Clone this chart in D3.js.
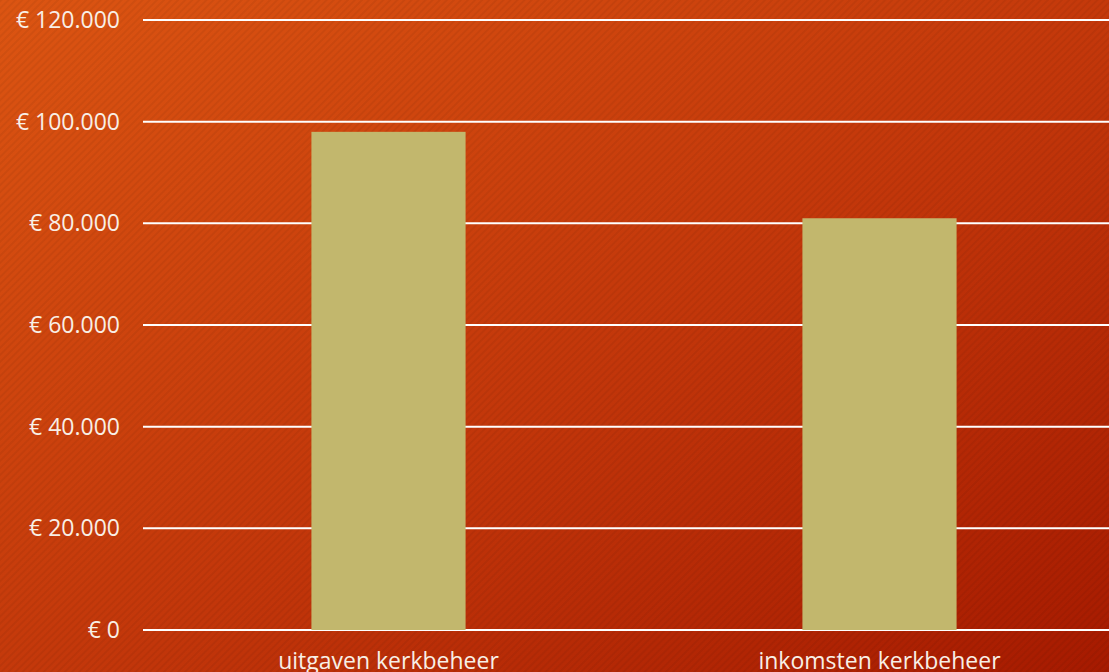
<!DOCTYPE html>
<html>
<head>
<meta charset="utf-8">
<script src="https://d3js.org/d3.v7.min.js"></script>
<style>
  body { margin: 0; overflow: hidden; }
</style>
</head>
<body>
<svg width="1109" height="672"></svg>
<script>

var categories = ["uitgaven kerkbeheer", "inkomsten kerkbeheer"];
var values = [98000, 81000];
var yTicks = [0, 20000, 40000, 60000, 80000, 100000, 120000];
var yTickLabels = ["€ 0", "€ 20.000", "€ 40.000", "€ 60.000", "€ 80.000", "€ 100.000", "€ 120.000"];

var svg = d3.select("svg"),
    width = +svg.attr("width"),
    height = +svg.attr("height");

// background gradient + diagonal texture
var defs = svg.append("defs");
var grad = defs.append("linearGradient")
    .attr("id", "bg")
    .attr("x1", "0%").attr("y1", "0%")
    .attr("x2", "100%").attr("y2", "100%");
grad.append("stop").attr("offset", "0%").attr("stop-color", "#dc5512");
grad.append("stop").attr("offset", "55%").attr("stop-color", "#c2360a");
grad.append("stop").attr("offset", "100%").attr("stop-color", "#a61a00");

var pat = defs.append("pattern")
    .attr("id", "hatch")
    .attr("width", 5).attr("height", 5)
    .attr("patternUnits", "userSpaceOnUse")
    .attr("patternTransform", "rotate(45)");
pat.append("rect")
    .attr("width", 2).attr("height", 5)
    .attr("fill", "#000").attr("opacity", 0.05);

svg.append("rect").attr("width", width).attr("height", height).attr("fill", "url(#bg)");
svg.append("rect").attr("width", width).attr("height", height).attr("fill", "url(#hatch)");

var x = d3.scaleBand().domain(categories).range([143, 1125]).paddingInner(0.686).paddingOuter(0.343);
var y = d3.scaleLinear().domain([0, 120000]).range([630, 20]);

// gridlines
svg.append("g")
  .selectAll("line")
  .data(yTicks)
  .enter().append("line")
  .attr("x1", 143).attr("x2", width)
  .attr("y1", function (d) { return y(d); })
  .attr("y2", function (d) { return y(d); })
  .attr("stroke", "#ffffff")
  .attr("stroke-width", 2);

// y labels
svg.append("g")
  .selectAll("text")
  .data(yTicks)
  .enter().append("text")
  .attr("x", 120)
  .attr("y", function (d) { return y(d); })
  .attr("dy", "0.35em")
  .attr("text-anchor", "end")
  .style("font-family", "Open Sans")
  .style("font-size", "23px")
  .style("fill", "#f8efe6")
  .text(function (d, i) { return yTickLabels[i]; });

// bars
svg.append("g")
  .selectAll("rect")
  .data(values)
  .enter().append("rect")
  .attr("x", function (d, i) { return x(categories[i]); })
  .attr("y", function (d) { return y(d); })
  .attr("width", x.bandwidth())
  .attr("height", function (d) { return y(0) - y(d); })
  .attr("fill", "#c2b76d");

// category labels
svg.append("g")
  .selectAll("text")
  .data(categories)
  .enter().append("text")
  .attr("x", function (d) { return x(d) + x.bandwidth() / 2; })
  .attr("y", 669)
  .attr("text-anchor", "middle")
  .style("font-family", "Open Sans")
  .style("font-size", "23px")
  .style("fill", "#f8efe6")
  .text(function (d) { return d; });

</script>
</body>
</html>
